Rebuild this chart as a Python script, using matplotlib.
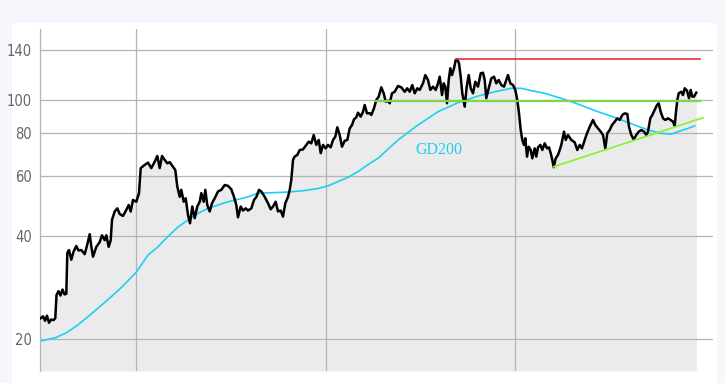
import numpy as np
import matplotlib
matplotlib.use("Agg")
import matplotlib.pyplot as plt
from matplotlib.patches import Rectangle
from matplotlib.ticker import FixedLocator, FixedFormatter, NullLocator

# price, time in years after start of 2013
t_price = [0.4971, 0.5092, 0.5198, 0.5303, 0.5409, 0.5514, 0.5646, 0.5741, 0.5805, 0.5910,
           0.6016, 0.6121, 0.6227, 0.6322, 0.6375, 0.6464, 0.6586, 0.6702, 0.6850, 0.6966,
           0.7113, 0.7293, 0.7414, 0.7557, 0.7652, 0.7731, 0.7905, 0.8084, 0.8206, 0.8348,
           0.8433, 0.8559, 0.8665, 0.8733, 0.8876, 0.9013, 0.9140, 0.9314, 0.9488, 0.9615,
           0.9720, 0.9842, 1.0016, 1.0158, 1.0248, 1.0459, 1.0633, 1.0807, 1.0987, 1.1124,
           1.1251, 1.1372, 1.1514, 1.1652, 1.1778, 1.1952, 1.2074, 1.2179, 1.2306, 1.2390,
           1.2517, 1.2622, 1.2744, 1.2850, 1.2971, 1.3098, 1.3235, 1.3361, 1.3446, 1.3572,
           1.3657, 1.3762, 1.3889, 1.4010, 1.4153, 1.4327, 1.4501, 1.4681, 1.4855, 1.5029,
           1.5171, 1.5293, 1.5382, 1.5525, 1.5646, 1.5789, 1.5910, 1.6084, 1.6227, 1.6348,
           1.6491, 1.6612, 1.6791, 1.6966, 1.7108, 1.7229, 1.7372, 1.7493, 1.7636, 1.7757,
           1.7879, 1.8021, 1.8111, 1.8195, 1.8285, 1.8374, 1.8512, 1.8638, 1.8812, 1.8987,
           1.9113, 1.9251, 1.9377, 1.9514, 1.9641, 1.9747, 1.9868, 2.0010, 2.0132, 2.0274,
           2.0396, 2.0517, 2.0622, 2.0749, 2.0870, 2.1013, 2.1150, 2.1277, 2.1398, 2.1504,
           2.1625, 2.1715, 2.1857, 2.1979, 2.2068, 2.2190, 2.2332, 2.2417, 2.2559, 2.2681,
           2.2807, 2.2944, 2.3071, 2.3177, 2.3298, 2.3388, 2.3509, 2.3651, 2.3826, 2.4000,
           2.4179, 2.4316, 2.4443, 2.4580, 2.4707, 2.4844, 2.4971, 2.5145, 2.5266, 2.5409,
           2.5530, 2.5673, 2.5815, 2.5936, 2.6026, 2.6148, 2.6237, 2.6322, 2.6411, 2.6501,
           2.6586, 2.6675, 2.6781, 2.6871, 2.6955, 2.7045, 2.7134, 2.7219, 2.7345, 2.7451,
           2.7557, 2.7662, 2.7783, 2.7905, 2.8047, 2.8190, 2.8311, 2.8401, 2.8485, 2.8612,
           2.8749, 2.8892, 2.9013, 2.9140, 2.9277, 2.9419, 2.9541, 2.9630, 2.9752, 2.9894,
           3.0016, 3.0121, 3.0211, 3.0301, 3.0385, 3.0475, 3.0543, 3.0633, 3.0723, 3.0828,
           3.0913, 3.1039, 3.1124, 3.1213, 3.1335, 3.1440, 3.1567, 3.1688, 3.1794, 3.1884,
           3.1968, 3.2042, 3.2147, 3.2269, 3.2359, 3.2443, 3.2585, 3.2675, 3.2797, 3.2971,
           3.3150, 3.3287, 3.3414, 3.3535, 3.3678, 3.3799, 3.3942, 3.4116, 3.4237, 3.4380,
           3.4522, 3.4644, 3.4765, 3.4870, 3.4997, 3.5118, 3.5261, 3.5398, 3.5525, 3.5662,
           3.5789, 3.5926, 3.6015, 3.6137, 3.6263, 3.6401, 3.6527, 3.6665, 3.6807, 3.6928,
           3.7018, 3.7140, 3.7245, 3.7372, 3.7493, 3.7583, 3.7688, 3.7810, 3.7931, 3.8074,
           3.8216, 3.8338, 3.8427, 3.8496, 3.8564, 3.8638, 3.8775, 3.8865, 3.8955, 3.9076,
           3.9182, 3.9271, 3.9356, 3.9445, 3.9567]
price = [23.0, 23.3, 22.6, 23.4, 22.3, 22.8, 22.7, 23.0, 26.9, 27.6,
         26.8, 27.9, 27.0, 27.1, 35.7, 36.4, 34.1, 36.0, 37.4, 36.3,
         36.4, 35.4, 37.5, 40.5, 37.0, 34.8, 37.2, 38.4, 40.2, 38.9,
         40.2, 37.2, 38.9, 44.6, 47.2, 48.2, 46.4, 45.8, 47.7, 49.3,
         47.2, 51.0, 50.4, 53.4, 63.2, 64.6, 65.6, 63.2, 66.0, 68.6,
         63.2, 68.6, 66.8, 65.3, 65.8, 63.8, 62.4, 55.8, 52.1, 54.6,
         50.4, 51.6, 46.1, 43.6, 48.8, 45.1, 48.8, 50.4, 53.4, 50.4,
         54.6, 49.3, 47.2, 49.9, 51.6, 54.0, 54.6, 56.4, 56.1, 54.8,
         52.1, 49.3, 45.4, 48.8, 47.5, 48.2, 47.5, 48.2, 51.0, 52.0,
         54.6, 54.0, 52.1, 49.9, 47.9, 48.8, 50.4, 47.2, 47.5, 45.6,
         49.9, 52.1, 54.6, 58.4, 66.8, 68.3, 69.1, 71.4, 71.7, 73.9,
         75.5, 74.7, 79.0, 73.9, 76.4, 69.9, 73.9, 72.2, 73.9, 72.7,
         76.4, 78.1, 83.2, 79.0, 73.0, 76.0, 76.4, 82.6, 84.5, 87.8,
         89.0, 91.8, 89.4, 92.4, 96.7, 91.4, 91.5, 90.4, 94.6, 100.0,
         102.3, 108.9, 104.6, 98.9, 99.5, 97.8, 104.6, 105.7, 109.9, 108.9,
         105.7, 108.2, 105.7, 110.6, 104.6, 108.2, 107.0, 111.9, 118.3, 114.4,
         107.0, 109.4, 107.0, 111.9, 117.0, 103.4, 111.9, 109.4, 97.8, 114.4,
         123.8, 118.3, 123.8, 130.9, 131.5, 128.0, 117.0, 104.6, 95.6, 109.4,
         118.3, 108.2, 104.6, 113.1, 109.4, 119.7, 120.2, 114.4, 101.2, 108.2,
         115.7, 117.0, 111.9, 114.4, 110.6, 109.4, 114.4, 118.3, 111.9, 110.6,
         107.0, 100.0, 91.4, 81.7, 76.4, 73.9, 77.3, 68.3, 73.0, 71.4,
         67.5, 72.2, 68.3, 72.7, 73.9, 71.4, 74.7, 72.2, 72.7, 69.9,
         66.8, 63.6, 67.5, 69.1, 71.4, 73.9, 80.8, 76.4, 79.0, 76.4,
         75.2, 71.4, 73.9, 72.2, 76.4, 79.9, 83.5, 87.4, 84.5, 82.6,
         80.8, 79.0, 72.2, 79.9, 81.7, 84.5, 86.4, 88.4, 87.4, 90.4,
         91.4, 91.0, 83.5, 79.0, 76.7, 79.0, 80.8, 81.7, 80.8, 79.0,
         80.8, 88.4, 90.4, 93.5, 96.7, 97.8, 92.4, 88.4, 87.4, 88.4,
         87.4, 86.4, 84.0, 92.4, 100.0, 104.6, 105.7, 103.4, 108.2, 106.5,
         101.2, 107.0, 102.3, 102.3, 105.1]

# 200-day average
t_gd = [0.4934, 0.5778, 0.6359, 0.6939, 0.7572, 0.8100, 0.8733, 0.9261, 1.0000, 1.0633,
        1.1161, 1.1689, 1.2216, 1.2744, 1.3272, 1.3799, 1.4327, 1.4855, 1.5382, 1.5910,
        1.6438, 1.7757, 1.8723, 1.9604, 2.0132, 2.0659, 2.1187, 2.1715, 2.2348, 2.2770,
        2.3826, 2.4881, 2.5936, 2.6992, 2.8047, 2.8928, 2.9804, 3.0332, 3.0860, 3.1567,
        3.2269, 3.2971, 3.3678, 3.4380, 3.4907, 3.5609, 3.6316, 3.7018, 3.7720, 3.8248,
        3.8601, 3.9129, 3.9483]
gd200 = [19.7, 20.2, 20.9, 22.0, 23.5, 24.9, 26.7, 28.4, 31.3, 35.2,
         37.2, 39.9, 42.5, 44.6, 46.6, 48.2, 49.3, 50.4, 51.2, 52.1,
         53.4, 53.7, 54.2, 55.1, 56.1, 57.7, 59.4, 61.7, 65.3, 67.5,
         76.4, 84.5, 92.4, 98.2, 102.7, 105.7, 108.2, 108.2, 106.5, 104.6,
         101.8, 98.9, 95.6, 92.4, 90.4, 87.4, 84.5, 81.7, 79.9, 79.5,
         80.8, 82.6, 84.0]

resist_t = [2.6886, 3.9762]
resist_val = 132
support_t = [2.2665, 3.9762]
support_val = 99.5
trend_t = [3.2042, 3.9920]
trend_val = [63.8, 88.7]

yticks = [20, 40, 60, 80, 100, 140]
year_lines = [2014, 2015, 2016]
base_year = 2013

tp = base_year + np.array(t_price)
tg = base_year + np.array(t_gd)

fig = plt.figure(figsize=(7.25, 3.83), dpi=100, facecolor='#f5f7fc')
panel = Rectangle((12 / 725, 0), 705 / 725, 360 / 383, transform=fig.transFigure,
                  facecolor='white', edgecolor='none', zorder=-10)
fig.patches.append(panel)
ax = fig.add_axes([40 / 725, 12 / 383, 673 / 725, 342 / 383])
ax.set_zorder(5)
ax.set_facecolor('none')
ax.set_yscale('log')
ylo, yhi = 16.12, 161.3
ax.set_xlim(base_year + 0.4934, base_year + 4.0448)
ax.set_ylim(ylo, yhi)

gridc = '#b4b4b4'
ax.fill_between(tp, price, ylo, color='#ebebeb', lw=0, zorder=0.3)
for y in yticks:
    ax.axhline(y, color=gridc, lw=0.9, zorder=0.6)
for x in year_lines:
    ax.axvline(x, color=gridc, lw=0.9, zorder=0.6)

ax.plot(tg, gd200, color='#1dd0f3', lw=1.2, zorder=2.5)
ax.plot(tp, price, color='black', lw=1.8, zorder=3, solid_joinstyle='round')
ax.plot(base_year + np.array(resist_t), [resist_val] * 2, color='#e2323c', lw=1.2, zorder=3.5)
ax.plot(base_year + np.array(support_t), [support_val] * 2, color='#7dd64a', lw=1.6, zorder=3.5)
ax.plot(base_year + np.array(trend_t), trend_val, color='#8cf03c', lw=1.3, zorder=3.5)

ax.text(base_year + 2.5989, 71.4, 'GD200', color='#22cdf0', fontsize=11.5,
        family=['Liberation Serif', 'DejaVu Serif'], ha='center', va='center')

ax.yaxis.set_major_locator(FixedLocator(yticks))
ax.yaxis.set_major_formatter(FixedFormatter([str(v) for v in yticks]))
ax.yaxis.set_minor_locator(NullLocator())
ax.set_xticks([])
ax.tick_params(axis='y', length=0, pad=6, labelsize=10.5, labelcolor='#666666')
for lab in ax.get_yticklabels():
    lab.set_family('DejaVu Sans')
    lab.set_fontstretch('condensed')

for s in ['top', 'right', 'bottom']:
    ax.spines[s].set_visible(False)
ax.spines['left'].set_color(gridc)
ax.spines['left'].set_linewidth(0.9)

fig.savefig('out.png', dpi=100, facecolor=fig.get_facecolor())
